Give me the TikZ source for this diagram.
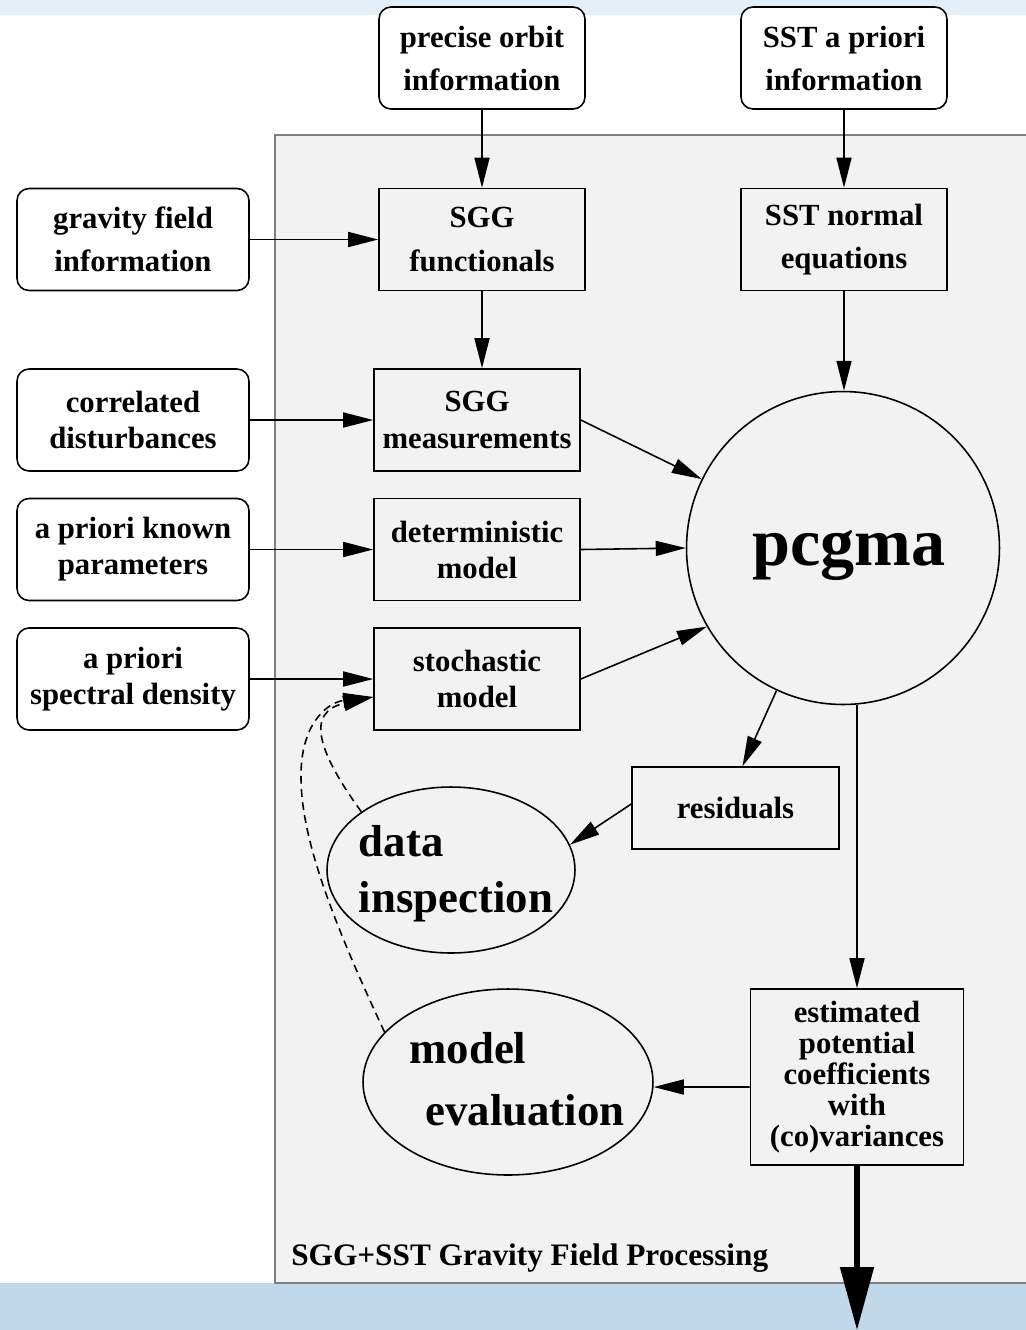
\documentclass[tikz,border=0pt]{standalone}
\usepackage{fontspec}
\setmainfont{Liberation Serif}
\usepackage{tikz}
\usetikzlibrary{arrows.meta,shapes.geometric}

\definecolor{topband}{RGB}{227,239,248}
\definecolor{bottomband}{RGB}{192,216,234}
\definecolor{panelfill}{RGB}{242,242,242}
\definecolor{panelline}{RGB}{128,128,128}

\tikzset{
  txt/.style={font=\fontsize{17.5}{24.5}\selectfont\bfseries, align=center},
  tight/.style={font=\fontsize{17.5}{20.5}\selectfont\bfseries},
  srcbox/.style={txt, draw, line width=0.9pt, rounded corners=0.24cm, fill=white,
    minimum width=4.64cm, minimum height=2.04cm, inner sep=0pt},
  procbox/.style={txt, draw, line width=0.9pt, fill=panelfill,
    minimum width=4.12cm, minimum height=2.04cm, inner sep=0pt},
  bubble/.style={draw, line width=0.9pt, ellipse, inner sep=0pt},
  bubbletext/.style={align=left, inner sep=0pt},
  arr/.style={line width=0.9pt, -{Triangle[length=0.6cm,width=0.3cm]}},
  feedback/.style={arr, dash pattern=on 4.5pt off 3pt}
}

\begin{document}
\begin{tikzpicture}[x=0.02cm, y=-0.02cm]
    \useasboundingbox (0,0) rectangle (1026,1330);

    % Draw the bands and the processing panel
    \fill[topband] (0,0) rectangle (1026,15);
    \fill[bottomband] (0,1283) rectangle (1026,1330);
    \draw[fill=panelfill, draw=panelline, line width=1.2pt] (275,135) rectangle (1040,1283);
    \node[anchor=west, inner sep=0pt, font=\fontsize{17.8}{20}\selectfont\bfseries] (title)
      at (291,1258) {SGG+SST Gravity Field Processing};

    % Input information
    \node[srcbox, minimum width=4.12cm] (orbit) at (482,58) {precise orbit\\information};
    \node[srcbox, minimum width=4.12cm] (sstin) at (844,58) {SST a priori\\information};
    \node[srcbox] (grav) at (133,239.5) {gravity field\\information};
    \node[srcbox, tight] (dist) at (133,420) {correlated\\disturbances};
    \node[srcbox, tight] (known) at (133,549.5) {a priori known\\parameters};
    \node[srcbox, tight] (spec) at (133,679) {a priori\\spectral density};

    % Processing boxes
    \node[procbox] (func) at (482,239.5) {SGG\\functionals};
    \node[procbox] (sstneq) at (844,239.5) {SST normal\\equations};
    \node[procbox, tight] (meas) at (477,420) {SGG\\measurements};
    \node[procbox, tight] (determ) at (477,549.5) {deterministic\\model};
    \node[procbox, tight] (stoch) at (477,679) {stochastic\\model};
    \node[procbox, minimum width=4.14cm, minimum height=1.64cm] (res) at (735.5,808) {residuals};
    \node[procbox, minimum width=4.26cm, minimum height=3.52cm,
      font=\fontsize{17.5}{17.6}\selectfont\bfseries] (est) at (857,1077)
      {estimated\\potential\\coefficients\\with\\(co)variances};

    % Solver and inspection
    \node[draw, circle, line width=0.9pt, minimum size=6.26cm, inner sep=0pt,
      font=\fontsize{38.8}{40}\selectfont\bfseries] (pcgma) at (843,548)
      {\hspace{0.24cm}\raisebox{-0.16cm}[\height][\depth]{pcgma}};
    \node[bubble, minimum width=4.96cm, minimum height=3.32cm] (insp) at (451,870) {};
    \node[bubbletext, font=\fontsize{25.5}{31.9}\selectfont\bfseries] (insptext)
      at (456,874) {data\\inspection};
    \node[bubble, minimum width=5.8cm, minimum height=3.72cm] (eval) at (508,1082) {};
    \node[bubbletext, font=\fontsize{25.5}{35.3}\selectfont\bfseries] (evaltext)
      at (517,1079) {model\\\hspace{0.32cm}evaluation};
    \coordinate (out) at (857,1330);

    % Draw arrows
    \draw[arr] (orbit) -- (func);
    \draw[arr] (sstin) -- (sstneq);
    \draw[arr] (grav) -- (func);
    \draw[arr] (func) -- (meas.north -| func);
    \draw[arr] (dist) -- (meas);
    \draw[arr] (known) -- (determ);
    \draw[arr] (spec) -- (stoch);
    \draw[arr] (sstneq.south) -- (sstneq.south |- pcgma.north);
    \draw[arr] (meas.east) -- (pcgma.154);
    \draw[arr] (determ.east) -- (pcgma.west);
    \draw[arr] (stoch.east) -- (pcgma.210);
    \draw[arr] (pcgma.245) -- ([xshift=0.14cm]res.north);
    \draw[arr] ([yshift=0.08cm]res.west) -- (insp.12);
    \draw[arr] (est.north |- pcgma.south) -- (est.north);
    \draw[arr] ([yshift=-0.2cm]est.west) -- ([yshift=-0.1cm]eval.east);
    \draw[line width=2.9pt, -{Triangle[length=1.26cm,width=0.66cm]}] (est.south) -- (out);

    % Feedback to the stochastic model
    \draw[feedback] (insp.147) .. controls (318,752) and (305,712) .. ([yshift=-0.36cm]stoch.west);
    \draw[feedback] (eval.158) .. controls (325,905) and (300,830) .. (301,773)
      .. controls (302,720) and (330,702) .. ([yshift=-0.36cm]stoch.west);
\end{tikzpicture}
\end{document}
